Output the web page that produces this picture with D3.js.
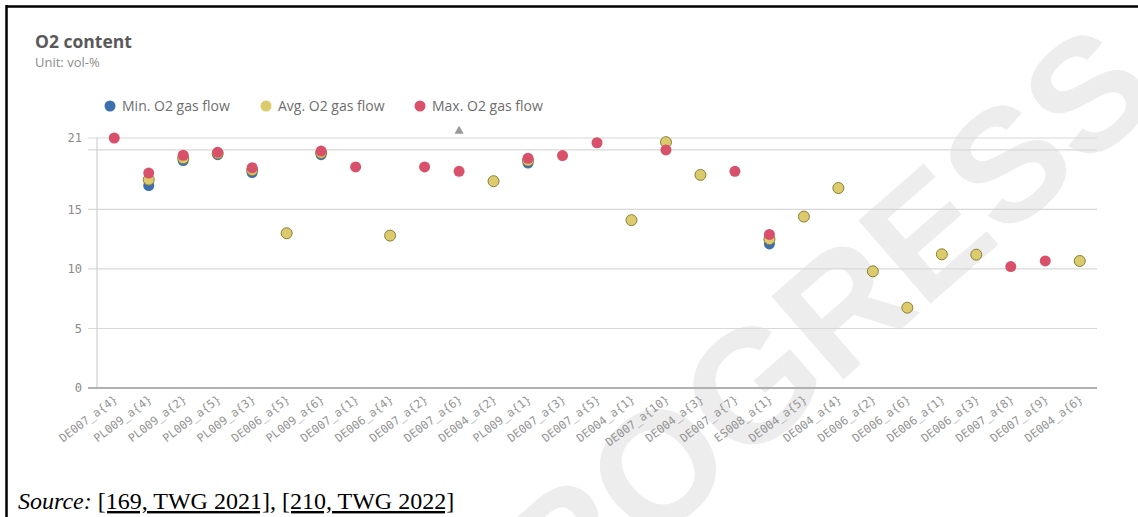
<!DOCTYPE html>
<html><head><meta charset="utf-8">
<script src="https://cdn.jsdelivr.net/npm/d3@7"></script>
<style>body{margin:0;background:#fff}svg{display:block}</style>
</head><body><svg id="c" width="1138" height="517"></svg>
<script>
const categories = ["DE007_a{4}","PL009_a{4}","PL009_a{2}","PL009_a{5}","PL009_a{3}","DE006_a{5}","PL009_a{6}","DE007_a{1}","DE006_a{4}","DE007_a{2}","DE007_a{6}","DE004_a{2}","PL009_a{1}","DE007_a{3}","DE007_a{5}","DE004_a{1}","DE007_a{10}","DE004_a{3}","DE007_a{7}","ES008_a{1}","DE004_a{5}","DE004_a{4}","DE006_a{2}","DE006_a{6}","DE006_a{1}","DE006_a{3}","DE007_a{8}","DE007_a{9}","DE004_a{6}"];
const minValues = [null,17.0,19.1,19.6,18.1,null,19.6,null,null,null,null,null,18.9,null,null,null,null,null,null,12.1,null,null,null,null,null,null,null,null,null];
const avgValues = [null,17.5,19.3,19.7,18.3,13.0,19.75,null,12.8,null,null,17.37,19.1,null,null,14.1,20.65,17.9,null,12.5,14.4,16.8,9.8,6.75,11.23,11.2,null,null,10.67];
const maxValues = [21.0,18.05,19.55,19.8,18.5,null,19.9,18.57,null,18.57,18.2,null,19.3,19.52,20.6,null,20.0,null,18.2,12.9,null,null,null,null,null,null,10.2,10.67,null];
const seriesNames = ["Min. O2 gas flow","Avg. O2 gas flow","Max. O2 gas flow"];
const seriesColors = ["#3c6fae","#dccb6c","#d9506a"];
const yTickValues = [0,5,10,15,21];
const gridValues = [0,5,10,15,20,21];
const offScaleCategories = ["DE007_a{6}"];

const svg = d3.select("#c");
svg.append("rect").attr("width",1138).attr("height",517).attr("fill","#fff");

// watermark
svg.append("text").attr("transform","translate(822,398) rotate(-41)")
  .attr("text-anchor","middle").attr("font-family","Liberation Sans, Arial, sans-serif")
  .attr("font-weight","bold").attr("font-size",160).attr("fill","#ededed").text("PROGRESS");

// frame
svg.append("line").attr("x1",6).attr("x2",1138).attr("y1",6.5).attr("y2",6.5).attr("stroke","#000").attr("stroke-width",2.5);
svg.append("line").attr("x1",6.5).attr("x2",6.5).attr("y1",5).attr("y2",517).attr("stroke","#000").attr("stroke-width",2.5);

const x = d3.scaleBand().domain(categories).range([97,1097]);
const y = d3.scaleLinear().domain([0,21]).range([388,138]);

// title
svg.append("text").attr("x",35).attr("y",48).attr("font-family","Open Sans, sans-serif").attr("font-weight","bold")
  .attr("font-size",17.5).attr("fill","#595959").text("O2 content");
svg.append("text").attr("x",35).attr("y",67).attr("font-family","Open Sans, sans-serif")
  .attr("font-size",13).attr("fill","#8c8c8c").text("Unit: vol-%");

// legend
const legX = [110,266,420];
seriesNames.forEach((n,i)=>{
  svg.append("circle").attr("cx",legX[i]).attr("cy",106).attr("r",5.5).attr("fill",seriesColors[i]);
  svg.append("text").attr("x",legX[i]+12).attr("y",111).attr("font-family","Open Sans, sans-serif")
    .attr("font-size",14).attr("fill","#6e6e6e").text(n);
});

// gridlines
svg.append("g").selectAll("line").data(gridValues.filter(v=>v>0)).join("line")
  .attr("x1",88).attr("x2",1097).attr("y1",d=>y(d)).attr("y2",d=>y(d))
  .attr("stroke","#d8d8d8").attr("stroke-width",1.2);
// y axis line
svg.append("line").attr("x1",97).attr("x2",97).attr("y1",y(21)).attr("y2",y(0)).attr("stroke","#d0d0d0").attr("stroke-width",1.2);
// baseline
svg.append("line").attr("x1",88).attr("x2",1097).attr("y1",y(0)).attr("y2",y(0)).attr("stroke","#b0b0b0").attr("stroke-width",1.8);

// y tick labels
const yAxis = d3.axisLeft(y).tickValues(yTickValues).tickSize(0).tickPadding(15).tickFormat(d3.format("d"));
const ya = svg.append("g").attr("transform","translate(97,0)").call(yAxis);
ya.select(".domain").remove();
ya.selectAll("text").attr("font-family","DejaVu Sans Mono, monospace").attr("font-size",12).attr("fill","#8a8a8a");

// x axis labels
const xAxis = d3.axisBottom(x).tickSize(0).tickPadding(0);
const xa = svg.append("g").attr("transform","translate(0,"+y(0)+")").call(xAxis);
xa.select(".domain").remove();
xa.selectAll("text").attr("font-family","DejaVu Sans Mono, monospace").attr("font-size",11.5).attr("fill","#959595")
  .attr("text-anchor","end").attr("dy",0).attr("transform","translate(4,13) rotate(-37)");

// points
const series = [minValues,avgValues,maxValues];
series.forEach((vals,i)=>{
  svg.append("g").selectAll("circle")
    .data(categories.map((c,j)=>({c,v:vals[j]})).filter(d=>d.v!=null))
    .join("circle").attr("cx",d=>x(d.c)+x.bandwidth()/2).attr("cy",d=>y(d.v)).attr("r",5.5)
    .attr("fill",seriesColors[i])
    .attr("stroke",i===1?"#8a7d3a":"none").attr("stroke-width",1);
});

// off-scale indicator
svg.append("g").selectAll("path").data(offScaleCategories).join("path")
  .attr("d",d3.symbol(d3.symbolTriangle,36))
  .attr("transform",d=>"translate("+(x(d)+x.bandwidth()/2)+","+(y(21)-7)+")")
  .attr("fill","#999");

// source
const src = svg.append("text").attr("x",18).attr("y",509).attr("font-family","Liberation Serif, Times New Roman, serif")
  .attr("font-size",24).attr("fill","#000");
src.append("tspan").attr("font-style","italic").text("Source:");
src.append("tspan").text(" ");
src.append("tspan").attr("text-decoration","underline").text("[169, TWG 2021]");
src.append("tspan").text(", ");
src.append("tspan").attr("text-decoration","underline").text("[210, TWG 2022]");
</script></body></html>
